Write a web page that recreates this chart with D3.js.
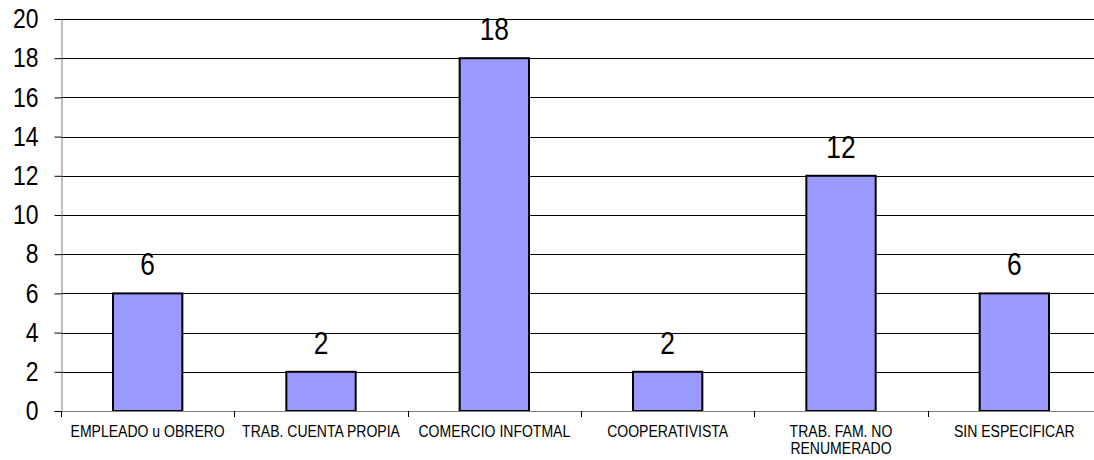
<!DOCTYPE html>
<html>
<head>
<meta charset="utf-8">
<script src="https://cdn.jsdelivr.net/npm/d3@7"></script>
<style>
  body { margin: 0; background: #fff; }
  svg { display: block; font-family: "Liberation Sans", Arial, sans-serif; }
</style>
</head>
<body>
<svg id="chart" width="1094" height="460"></svg>
<script>
const categories = ["EMPLEADO u OBRERO", "TRAB. CUENTA PROPIA", "COMERCIO INFOTMAL", "COOPERATIVISTA", "TRAB. FAM. NO\nRENUMERADO", "SIN ESPECIFICAR"];
const values = [6, 2, 18, 2, 12, 6];
const yTicks = [0, 2, 4, 6, 8, 10, 12, 14, 16, 18, 20];

const svg = d3.select("#chart");
const plotLeft = 61, plotRight = 1101, plotTop = 19, plotBottom = 411;
const squeeze = 0.85; // narrow the type horizontally

const x = d3.scaleBand().domain(categories).range([plotLeft, plotRight]).paddingInner(0.6).paddingOuter(0.3);
const xb = d3.scaleBand().domain(categories).range([plotLeft, plotRight]);
const y = d3.scaleLinear().domain([0, 20]).range([plotBottom, plotTop]);

// horizontal gridlines
svg.append("g").selectAll("line").data(yTicks.filter(d => d > 0)).join("line")
  .attr("x1", plotLeft).attr("x2", 1094)
  .attr("y1", d => Math.round(y(d)) + 0.5).attr("y2", d => Math.round(y(d)) + 0.5)
  .attr("stroke", "#000").attr("stroke-width", 1);

// y axis
const yAxis = svg.append("g").attr("transform", `translate(${plotLeft + 0.5},0)`)
  .call(d3.axisLeft(y).tickValues(yTicks).tickSize(7).tickPadding(9));
yAxis.select(".domain").attr("stroke", "#808080");
yAxis.selectAll(".tick line").attr("stroke", "#000");
yAxis.selectAll(".tick text")
  .attr("x", 0)
  .attr("transform", `translate(-23,0) scale(${squeeze},1)`)
  .attr("font-size", 27).attr("fill", "#000")
  .attr("font-family", "Liberation Sans, Arial, sans-serif");

// bars
svg.append("g").selectAll("rect").data(values).join("rect")
  .attr("x", (d, i) => x(categories[i]))
  .attr("y", d => y(d))
  .attr("width", x.bandwidth())
  .attr("height", d => y(0) - y(d))
  .attr("fill", "#9999FF").attr("stroke", "#000").attr("stroke-width", 2);

// x axis baseline and category ticks
svg.append("line").attr("x1", plotLeft).attr("x2", 1094)
  .attr("y1", plotBottom + 0.5).attr("y2", plotBottom + 0.5).attr("stroke", "#808080");
svg.append("g").selectAll("line").data(categories).join("line")
  .attr("x1", d => Math.round(xb(d)) + 0.5).attr("x2", d => Math.round(xb(d)) + 0.5)
  .attr("y1", plotBottom).attr("y2", plotBottom + 6).attr("stroke", "#000");

// category labels
svg.append("g").selectAll("text").data(categories).join("text")
  .attr("transform", d => `translate(${xb(d) + xb.bandwidth() / 2},437) scale(${squeeze},1)`)
  .attr("text-anchor", "middle").attr("font-size", 16.5).attr("fill", "#000")
  .each(function(d) {
    d.split("\n").forEach((t, k) => {
      d3.select(this).append("tspan")
        .attr("x", 0)
        .attr("dy", k === 0 ? 0 : 17).text(t);
    });
  });

// value labels
svg.append("g").selectAll("text").data(values).join("text")
  .attr("transform", (d, i) => `translate(${x(categories[i]) + x.bandwidth() / 2},${y(d) - 18}) scale(${squeeze},1)`)
  .attr("text-anchor", "middle").attr("font-size", 31).attr("fill", "#000")
  .text(d => d);
</script>
</body>
</html>
